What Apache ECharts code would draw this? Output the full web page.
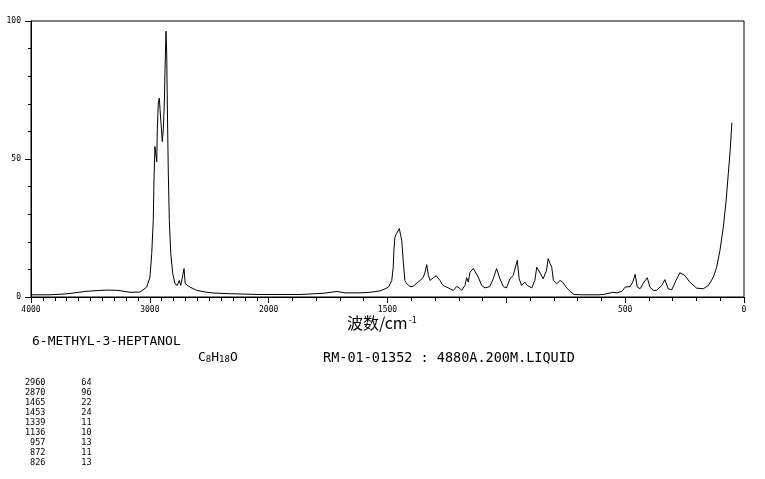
<!DOCTYPE html>
<html>
<head>
<meta charset="utf-8">
<script src="https://cdn.jsdelivr.net/npm/echarts@6/dist/echarts.min.js"></script>
<style>
html,body{margin:0;padding:0;background:#fff;}
#chart{width:765px;height:479px;}
</style>
</head>
<body>
<div id="chart"></div>
<script>
// ---- data (Raman shift cm-1, relative intensity) ----
const wavenumbers = [4000,3840,3714,3672,3546,3419,3360,3268,3167,3083,3026,2999,2984,2971,2965,2957,2948,2942,2937,2929,2920,2914,2906,2895,2887,2878,2872,2864,2858,2853,2845,2836,2824,2807,2788,2769,2752,2740,2723,2712,2702,2662,2606,2521,2452,2325,2073,1868,1763,1713,1679,1616,1574,1532,1506,1494,1482,1476,1473,1469,1465,1461,1456,1450,1445,1440,1434,1427,1419,1405,1393,1363,1349,1342,1335,1328,1321,1307,1295,1279,1267,1237,1223,1209,1198,1188,1174,1167,1160,1153,1139,1132,1118,1104,1090,1069,1055,1041,1027,1013,999,985,971,964,954,946,936,922,912,893,880,872,858,845,831,824,816,809,802,788,774,763,746,732,715,678,614,606,593,551,534,513,500,479,468,458,449,437,424,407,396,382,368,346,333,319,304,286,270,249,228,199,171,150,129,115,101,87,75,66,58,51];
const intensities = [0.8,0.8,1.1,1.3,2.0,2.4,2.5,2.4,1.7,1.8,3.6,7.2,15.8,27.8,42.4,54.5,55.1,49.0,60.5,70.3,72.1,67.8,63.0,56.3,60.5,70.3,82.4,96.3,88.4,70.3,46.0,27.8,15.8,8.4,4.8,4.2,6.0,4.2,7.8,10.3,4.8,3.6,2.4,1.7,1.4,1.2,0.9,0.9,1.4,2.0,1.5,1.5,1.7,2.2,3.1,3.8,6.0,10.8,16.9,21.6,21.7,23.1,23.5,24.8,22.4,20.5,13.3,6.0,4.8,3.8,3.8,6.0,7.2,9.0,11.7,7.8,6.0,7.0,7.7,6.0,4.2,3.0,2.4,3.8,3.3,2.4,4.2,7.0,5.4,9.0,10.3,9.6,7.2,4.2,3.3,3.8,6.6,10.3,6.6,3.8,3.3,6.6,7.8,8.4,13.3,6.6,4.2,5.4,4.2,3.3,6.0,10.8,8.7,6.6,9.6,13.9,12.1,10.8,6.0,4.8,6.0,5.4,3.3,2.1,0.9,0.8,0.8,1.4,0.9,1.7,1.5,2.1,3.6,3.8,5.4,8.2,3.6,3.0,5.0,7.0,3.6,2.4,2.4,4.2,6.3,3.0,2.6,6.0,8.8,7.8,5.4,3.2,3.0,4.2,7.2,10.8,16.9,25.4,35.1,44.8,53.3,63.2];

// tick labels shown on the wavenumber axis (1000 is not labelled in the reference)
const xTickLabels = ['4000','3000','2000','1500','500','0'];
const xTickLabelValues = [4000,3000,2000,1500,500,0];

const compoundName = '6-METHYL-3-HEPTANOL';
const formulaParts = ['C','8','H','18','O'];
const sampleInfo = 'RM-01-01352 : 4880A.200M.LIQUID';
const peakWavenumbers = [2960,2870,1465,1453,1339,1136,957,872,826];
const peakIntensities = [64,96,22,24,11,10,13,11,13];

// ---- axis transform: 4000-2000 compressed (half scale), 2000-0 full scale ----
function toU(w){ return w >= 2000 ? (4000 - w) / 2 : 1000 + (2000 - w); }
const seriesData = wavenumbers.map((w,i)=>[toU(w), intensities[i]]);

const mono = '"DejaVu Sans Mono", "Liberation Mono", monospace';
const PLOT_L = 31, PLOT_R = 21, PLOT_T = 21, PLOT_B = 182, W = 765;
const plotW = W - PLOT_L - PLOT_R;
const splitX = PLOT_L + plotW * toU(2000) / 3000;

function labelFmt(hide){
  return function(v){
    if (hide.indexOf(v) >= 0) return '';
    const k = xTickLabelValues.indexOf(v);
    return k >= 0 ? xTickLabels[k] : '';
  };
}

const chart = echarts.init(document.getElementById('chart'), null, {renderer:'canvas'});

const tableText = peakWavenumbers.map((w,i)=>
  String(w).padStart(4,' ') + '       ' + String(peakIntensities[i]).padStart(2,' ')
).join('\n');

const axisCommon = {
  type:'value', position:'bottom', inverse:true,
  axisLine:{show:true,lineStyle:{color:'#000',width:1}},
  axisTick:{show:true,length:6,lineStyle:{color:'#000'}},
  minorTick:{show:true,length:4,lineStyle:{color:'#000'}},
  axisLabel:{color:'#000',fontFamily:mono,fontSize:8,margin:9,showMinLabel:true,showMaxLabel:true},
  splitLine:{show:false}
};

chart.setOption({
  animation:false,
  backgroundColor:'#fff',
  grid:[
    {left:PLOT_L,right:PLOT_R,top:PLOT_T,bottom:PLOT_B,show:true,borderColor:'#000',borderWidth:1,backgroundColor:'transparent'},
    {left:PLOT_L,width:splitX-PLOT_L,top:PLOT_T,bottom:PLOT_B,show:false},
    {left:splitX,right:PLOT_R,top:PLOT_T,bottom:PLOT_B,show:false}
  ],
  xAxis:[
    {type:'value',gridIndex:0,min:0,max:3000,show:false},
    Object.assign({}, axisCommon, {gridIndex:1,min:2000,max:4000,interval:1000,
      minorTick:Object.assign({}, axisCommon.minorTick, {splitNumber:10}),
      axisLabel:Object.assign({}, axisCommon.axisLabel, {formatter:labelFmt([2000])})}),
    Object.assign({}, axisCommon, {gridIndex:2,min:0,max:2000,interval:500,
      minorTick:Object.assign({}, axisCommon.minorTick, {splitNumber:5}),
      axisLabel:Object.assign({}, axisCommon.axisLabel, {formatter:labelFmt([])})})
  ],
  yAxis:[
    {
      type:'value', gridIndex:0, min:0, max:100, interval:50,
      axisLine:{show:true,lineStyle:{color:'#000',width:1}},
      axisTick:{show:true,length:6,lineStyle:{color:'#000'}},
      minorTick:{show:true,splitNumber:5,length:3,lineStyle:{color:'#000'}},
      axisLabel:{color:'#000',fontFamily:mono,fontSize:8,margin:10},
      splitLine:{show:false}
    },
    {type:'value',gridIndex:1,min:0,max:100,show:false},
    {type:'value',gridIndex:2,min:0,max:100,show:false}
  ],
  series:[{
    type:'line', xAxisIndex:0, yAxisIndex:0, data:seriesData, showSymbol:false, symbol:'none',
    lineStyle:{color:'#000',width:1}, silent:true, clip:true
  }],
  graphic:[
    {type:'text', left:347, top:315, style:{
      text:'波数/cm{sup|-1}', fill:'#000',
      font:'16px "Noto Sans CJK SC"',
      rich:{sup:{fontSize:9,fontFamily:'"Noto Sans CJK SC"',verticalAlign:'top',padding:[0,0,6,1]}}
    }},
    {type:'text', left:32, top:335, style:{text:compoundName, fill:'#000', font:'13px '+mono}},
    {type:'text', left:198, top:351, style:{
      text:formulaParts[0]+'{s|'+formulaParts[1]+'}'+formulaParts[2]+'{s|'+formulaParts[3]+'}'+formulaParts[4],
      fill:'#000', font:'13px '+mono,
      rich:{s:{fontSize:9,fontFamily:mono,verticalAlign:'bottom',padding:[5,0,0,0]}}
    }},
    {type:'text', left:323, top:351, style:{text:sampleInfo, fill:'#000', font:'13.5px '+mono}},
    {type:'text', left:25, top:378, style:{text:tableText, fill:'#000', font:'8.5px '+mono, lineHeight:10}}
  ]
});
</script>
</body>
</html>
